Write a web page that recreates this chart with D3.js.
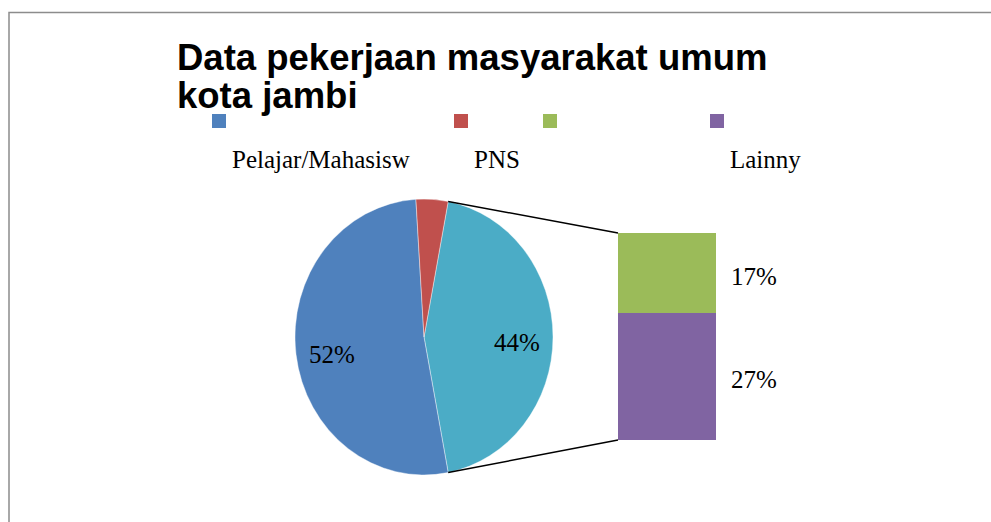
<!DOCTYPE html>
<html>
<head>
<meta charset="utf-8">
<script src="https://cdn.jsdelivr.net/npm/d3@7"></script>
<style>
  body { margin: 0; background: #fff; }
  svg { display: block; }
</style>
</head>
<body>
<svg id="chart" width="991" height="522"></svg>
<script>

// main pie slices (percent)
var mainNames = ['Pelajar/Mahasisw', 'PNS'],
    mainValues = [52, 4],
    mainColors = ['#4F81BD', '#C0504D'];

// slices moved to the stacked bar (percent)
var subNames = ['', 'Lainny'],
    subValues = [17, 27],
    subColors = ['#9BBB59', '#8064A2'];

var otherColor = '#4BACC6',
    otherValue = d3.sum(subValues);

var legendNames = mainNames.concat(subNames),
    legendColors = mainColors.concat(subColors);

var svg = d3.select('#chart');

var serif = '"Liberation Serif", "Times New Roman", serif',
    sans = '"Liberation Sans", Arial, sans-serif';

// chart frame (only top and left edges are in view)
svg.append('path')
    .attr('d', 'M9,522V12.5H991')
    .attr('fill', 'none')
    .attr('stroke', '#8c8c8c')
    .attr('stroke-width', 1.5);

// title
var title = svg.append('text')
    .attr('font-family', sans)
    .attr('font-weight', 'bold')
    .attr('font-size', 36.5)
    .attr('fill', '#000');
title.append('tspan').attr('x', 177).attr('y', 70).text('Data pekerjaan masyarakat umum');
title.append('tspan').attr('x', 177).attr('y', 108).text('kota jambi');

// legend
var legendX = [212, 454, 543, 710];
var legend = svg.append('g')
    .selectAll('g')
    .data(legendNames)
    .enter()
    .append('g')
    .attr('transform', function (d, i) { return 'translate(' + legendX[i] + ',114)'; });

legend.append('rect')
    .attr('width', 14)
    .attr('height', 14)
    .attr('fill', function (d, i) { return legendColors[i]; });

legend.append('text')
    .attr('x', 20)
    .attr('y', 54)
    .attr('font-family', serif)
    .attr('font-size', 25)
    .attr('fill', '#000')
    .text(function (d) { return d; });

// pie (slightly taller than wide, as in the source)
var cx = 424, cy = 337, rx = 129, ry = 138;

var pieData = [{ name: 'other', value: otherValue, color: otherColor }]
    .concat(mainNames.map(function (n, i) {
        return { name: n, value: mainValues[i], color: mainColors[i] };
    }));

var total = d3.sum(pieData, function (d) { return d.value; });
var start = Math.PI / 2 - (otherValue / total) * Math.PI;

var arcs = d3.pie()
    .sort(null)
    .value(function (d) { return d.value; })
    .startAngle(start)
    .endAngle(start + 2 * Math.PI)(pieData);

var arc = d3.arc().innerRadius(0).outerRadius(rx);

var pieG = svg.append('g')
    .attr('transform', 'translate(' + cx + ',' + cy + ') scale(1,' + (ry / rx) + ')');

pieG.selectAll('path')
    .data(arcs)
    .enter()
    .append('path')
    .attr('d', arc)
    .attr('fill', function (d) { return d.data.color; })
    .attr('stroke', '#fff')
    .attr('stroke-width', 0.4);

function edgePoint (a) {
    return [cx + rx * Math.sin(a), cy - ry * Math.cos(a)];
}

// data labels, nudged a little below the centroid like the source
var labelArc = d3.arc().innerRadius(rx * 0.72).outerRadius(rx * 0.72);
svg.append('g')
    .selectAll('text')
    .data(arcs.filter(function (d) { return d.value / total > 0.1; }))
    .enter()
    .append('text')
    .attr('x', function (d) { return cx + labelArc.centroid(d)[0]; })
    .attr('y', function (d) { return cy + labelArc.centroid(d)[1] * ry / rx + 14; })
    .attr('text-anchor', 'middle')
    .attr('font-family', serif)
    .attr('font-size', 25)
    .attr('fill', '#000')
    .text(function (d) { return Math.round(d.value / total * 100) + '%'; });

// stacked bar of the "other" slice
var barX = 618, barW = 98;
var y = d3.scaleLinear().domain([0, otherValue]).range([233, 440]);

var stack = [];
subValues.reduce(function (acc, v, i) {
    stack.push({ y0: acc, y1: acc + v, value: v, color: subColors[i] });
    return acc + v;
}, 0);

svg.append('g')
    .selectAll('rect')
    .data(stack)
    .enter()
    .append('rect')
    .attr('x', barX)
    .attr('y', function (d) { return y(d.y0); })
    .attr('width', barW)
    .attr('height', function (d) { return y(d.y1) - y(d.y0); })
    .attr('fill', function (d) { return d.color; });

svg.append('g')
    .selectAll('text')
    .data(stack)
    .enter()
    .append('text')
    .attr('x', barX + barW + 15)
    .attr('y', function (d) { return (y(d.y0) + y(d.y1)) / 2 + 12; })
    .attr('font-family', serif)
    .attr('font-size', 25)
    .attr('fill', '#000')
    .text(function (d) { return Math.round(d.value / total * 100) + '%'; });

// connector lines
var otherArc = arcs[0];
var pTop = edgePoint(otherArc.startAngle),
    pBot = edgePoint(otherArc.endAngle);

svg.append('g')
    .selectAll('line')
    .data([[pTop, [barX, y(0)]], [pBot, [barX, y(otherValue)]]])
    .enter()
    .append('line')
    .attr('x1', function (d) { return d[0][0]; })
    .attr('y1', function (d) { return d[0][1]; })
    .attr('x2', function (d) { return d[1][0]; })
    .attr('y2', function (d) { return d[1][1]; })
    .attr('stroke', '#000')
    .attr('stroke-width', 1.5);

</script>
</body>
</html>
